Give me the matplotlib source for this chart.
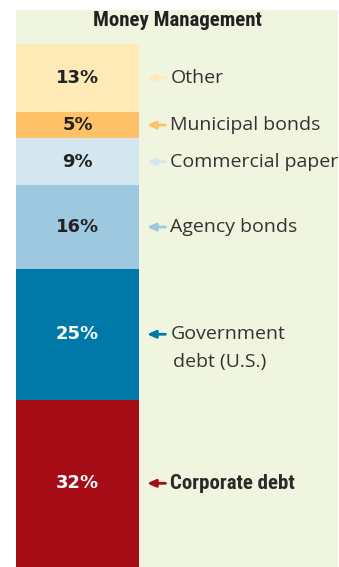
import matplotlib
matplotlib.use('Agg')
import matplotlib.pyplot as plt
from matplotlib.patches import Rectangle

# data, top of the stack first
categories = ['Other', 'Municipal bonds', 'Commercial paper', 'Agency bonds',
              'Government\ndebt (U.S.)', 'Corporate debt']
shares = [13, 5, 9, 16, 25, 32]
colors = ['#feeab6', '#fec268', '#d4e6f0', '#9ec8df', '#0079a9', '#a60c15']
pct_colors = ['#222222', '#222222', '#222222', '#222222', 'white', 'white']

narrow = ['Roboto Condensed', 'DejaVu Sans']
plain = ['Open Sans', 'DejaVu Sans']
pct_font = ['DejaVu Sans']

W, H = 339, 567
fig = plt.figure(figsize=(W / 100, H / 100), dpi=100)
fig.patch.set_facecolor('white')

# light green panel behind everything
fig.patches.append(Rectangle((16 / W, 0), (338 - 16) / W, (H - 10) / H,
                             transform=fig.transFigure, facecolor='#f0f5df',
                             edgecolor='none', zorder=-10))

fig.text(177 / W, 1 - 21 / H, 'Money Management', ha='center', va='center',
         fontsize=15, fontweight='bold', family=narrow, color='#222222')

ax = fig.add_axes([16 / W, 0, 123 / W, (H - 44) / H])
ax.set_xlim(0, 1)
ax.set_ylim(100, 0)
ax.axis('off')

top = 0
for cat, val, col, pc in zip(categories, shares, colors, pct_colors):
    ax.bar(0.5, val, width=1, bottom=top, color=col, edgecolor='none')
    mid = top + val / 2
    ax.text(0.5, mid, f'{val}%', ha='center', va='center', fontsize=13,
            fontweight='bold', family=pct_font, color=pc)
    ax.annotate('', xy=(1.065, mid), xytext=(1.215, mid),
                arrowprops=dict(arrowstyle='-|>,head_length=0.5,head_width=0.22',
                                color=col, lw=2, shrinkA=0, shrinkB=0),
                annotation_clip=False)
    bold = cat == 'Corporate debt'
    if '\n' in cat:
        first, second = cat.split('\n')
        ax.text(1.255, mid, first, ha='left', va='center', fontsize=14,
                family=plain, color='#333333')
        ax.annotate(second, xy=(1.255, mid), xytext=(2, -20),
                    textcoords='offset points', ha='left', va='center',
                    fontsize=14, family=plain, color='#333333', annotation_clip=False)
    else:
        ax.text(1.255, mid, cat, ha='left', va='center',
                fontsize=15 if bold else 14,
                fontweight='bold' if bold else 'normal',
                family=narrow if bold else plain, color='#2a2a2a' if bold else '#333333')
    top += val

fig.savefig('out.png', dpi=100, facecolor='white')
